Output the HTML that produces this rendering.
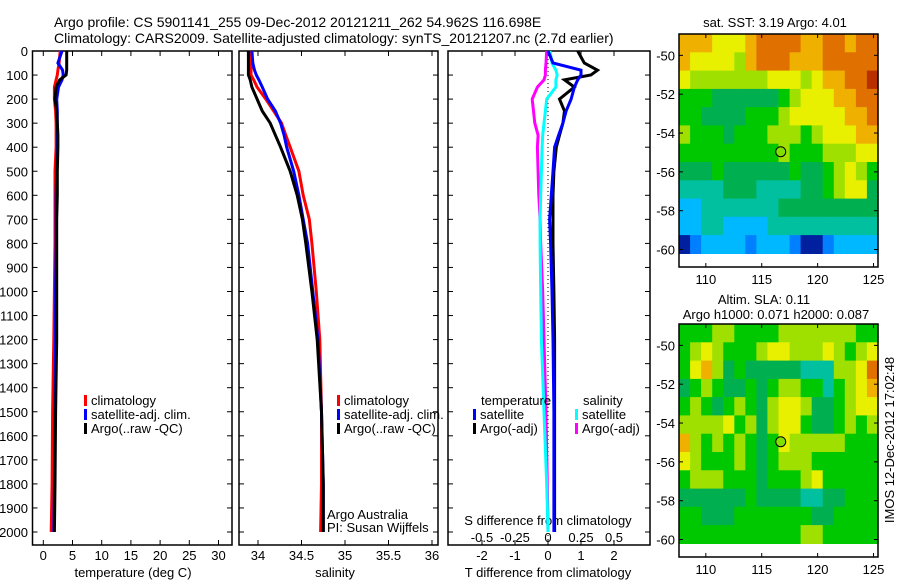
<!DOCTYPE html>
<html><head><meta charset="utf-8">
<style>
body{margin:0;background:#fff;}
svg{display:block;font-family:"Liberation Sans",sans-serif;}
text{fill:#000;font-size:13px;}
</style></head>
<body>
<svg id="chart" width="900" height="580" viewBox="0 0 900 580" xmlns="http://www.w3.org/2000/svg">
<text x="54" y="27" style="font-size:14px">Argo profile: CS 5901141_255 09-Dec-2012 20121211_262 54.962S 116.698E</text>
<text x="54" y="43" style="font-size:14px">Climatology: CARS2009. Satellite-adjusted climatology: synTS_20121207.nc (2.7d earlier)</text>
<g id="g"></g>
</svg>
<script>
// ---- data ----
const depths = [0,50,80,100,120,150,200,250,300,350,400,500,600,700,800,1000,1200,1500,1800,2000];
const tempClim = [2.9,2.7,2.5,2.4,2.2,1.9,1.9,2.1,2.2,2.2,2.2,2.0,2.0,2.0,2.0,1.9,1.8,1.6,1.5,1.35];
const tempSat  = [3.2,2.5,3.3,3.4,3.2,2.6,2.3,2.4,2.4,2.4,2.4,2.3,2.2,2.2,2.2,2.1,2.1,2.0,1.9,1.8];
const tempArgo = [4.0,4.0,4.0,3.9,2.8,2.2,2.0,2.3,2.4,2.5,2.5,2.4,2.4,2.3,2.3,2.3,2.3,2.1,2.0,1.9];
const salClim = [33.92,33.92,33.92,33.92,33.95,33.99,34.09,34.18,34.27,34.32,34.37,34.47,34.52,34.59,34.62,34.67,34.71,34.73,34.73,34.72];
const salSat  = [33.93,33.94,33.96,33.98,34.01,34.05,34.11,34.20,34.26,34.30,34.33,34.41,34.47,34.52,34.57,34.63,34.69,34.73,34.75,34.75];
const salArgo = [33.89,33.89,33.89,33.89,33.91,33.93,33.99,34.05,34.14,34.20,34.26,34.37,34.45,34.51,34.55,34.62,34.68,34.73,34.75,34.75];
const dTSat  = [0.0,0.15,1.0,1.0,0.9,0.8,0.7,0.55,0.45,0.32,0.2,0.15,0.1,0.05,0.08,0.12,0.15,0.18,0.18,0.18];
const dTArgo = [0.9,1.1,1.5,1.3,0.5,0.8,0.35,0.5,0.45,0.35,0.25,0.18,0.15,0.15,0.15,0.18,0.2,0.2,0.2,0.2];
const dSSat  = [0.015,0.03,0.06,0.07,0.06,0.06,-0.01,-0.02,-0.03,-0.04,-0.045,-0.05,-0.055,-0.06,-0.06,-0.055,-0.05,-0.03,-0.01,0.0];
const dSArgo = [-0.01,-0.015,-0.02,-0.02,-0.03,-0.08,-0.12,-0.11,-0.1,-0.075,-0.08,-0.075,-0.07,-0.06,-0.055,-0.04,-0.03,-0.015,-0.005,0.0];
const depthTicks = [0,100,200,300,400,500,600,700,800,900,1000,1100,1200,1300,1400,1500,1600,1700,1800,1900,2000];
const tempTicks = [0,5,10,15,20,25,30];
const salTicks = [34,34.5,35,35.5,36];
const salTickLabels = ["34","34.5","35","35.5","36"];
const dTTicks = [-2,-1,0,1,2];
const dSTicks = [-0.5,-0.25,0,0.25,0.5];
const dSTickLabels = ["-0.5","-0.25","0","0.25","0.5"];
const latTicks = [-50,-52,-54,-56,-58,-60];
const lonTicks = [110,115,120,125];
const argoLon = 116.698, argoLat = -54.962;
const sstGrid = [
"888777899998899899",
"877776899988899999",
"76666666777678899a",
"555444444567778899",
"554444555677777889",
"655545556665677788",
"555555555655566677",
"444544444454456765",
"333344433334456774",
"223333333444444444",
"223322223333333333",
"012222122210012222"];
const slaGrid = [
"555665555666666655",
"567655567766676567",
"578645444443336679",
"456544545665535678",
"565456546776445677",
"666675646775445656",
"865656545766666555",
"765556545666555555",
"566655545556755555",
"444444544443344555",
"554445555555445555",
"555555555556655555"];
// ---- helpers ----
const NS="http://www.w3.org/2000/svg";
const G=document.getElementById('g');
function mk(tag,attrs,parent){const e=document.createElementNS(NS,tag);for(const k in attrs)e.setAttribute(k,attrs[k]);(parent||G).appendChild(e);return e;}
const top0=51, bot0=545;
function yD(d){return top0+d*0.2405;}
function lin(d0,p0,d1,p1){return v=>p0+(v-d0)*(p1-p0)/(d1-d0);}
const xT=lin(0,43.3,30,218.5);
const xS=lin(34,258,36,432);
const xdT=lin(0,548,1,581);
const xdS=lin(0,548,0.25,581);
const panels=[{x0:32.5,x1:232,name:'temperature-panel'},{x0:239,x1:438,name:'salinity-panel'},{x0:448,x1:650,name:'difference-panel'}];
function stepPath(vals,xf){let d='';for(let i=0;i<depths.length;i++){const x=xf(vals[i]).toFixed(1),y=yD(depths[i]).toFixed(1);d+=(i?'L':'M')+x+' '+y;}return d;}
function line(vals,xf,col,name){const p=mk('path',{d:stepPath(vals,xf),fill:'none',stroke:col,'stroke-width':3});}
function txt(s,x,y,anchor,name,size){const t=mk('text',{x:x,y:y,'text-anchor':anchor||'start'});if(size)t.style.fontSize=size+'px';t.textContent=s;return t;}
// panels frame + ticks
panels.forEach((p,pi)=>{
  const r=mk('rect',{x:p.x0,y:top0,width:p.x1-p.x0,height:bot0-top0,fill:'none',stroke:'#000','stroke-width':1.5});
  
  
  depthTicks.forEach(d=>{mk('line',{x1:p.x0,x2:p.x0+5,y1:yD(d),y2:yD(d),stroke:'#000'});mk('line',{x1:p.x1,x2:p.x1-5,y1:yD(d),y2:yD(d),stroke:'#000'});});
});
depthTicks.forEach(d=>txt(String(d),28,yD(d)+5,'end','depth-tick-label'));
function xticks(ticks,labels,xf,p,ly){ticks.forEach((t,i)=>{const x=xf(t);mk('line',{x1:x,x2:x,y1:top0,y2:top0+5,stroke:'#000'});mk('line',{x1:x,x2:x,y1:bot0,y2:bot0-5,stroke:'#000'});if(labels)txt(labels[i],x,ly,'middle','x-tick-label');});}
xticks(tempTicks,tempTicks.map(String),xT,panels[0],560);
xticks(salTicks,salTickLabels,xS,panels[1],560);
xticks(dTTicks,dTTicks.map(String),xdT,panels[2],560);
dSTicks.forEach((t,i)=>{const x=xdS(t);mk('line',{x1:x,x2:x,y1:bot0,y2:bot0-5,stroke:'#000'});txt(dSTickLabels[i],x,542,'middle','s-diff-tick-label');});
txt('temperature (deg C)',133,577,'middle','temperature-axis-title');
txt('salinity',335,577,'middle','salinity-axis-title');
txt('T difference from climatology',548,577,'middle','t-diff-axis-title');
txt('S difference from climatology',548,525,'middle','s-diff-axis-title');
// zero dotted line
mk('line',{x1:548,x2:548,y1:top0,y2:bot0,stroke:'#000','stroke-dasharray':'1,3'});
// series
line(tempClim,xT,'#f00','temp-climatology-line');
line(tempSat,xT,'#00f','temp-satellite-line');
line(tempArgo,xT,'#000','temp-argo-line');
line(salClim,xS,'#f00','sal-climatology-line');
line(salSat,xS,'#00f','sal-satellite-line');
line(salArgo,xS,'#000','sal-argo-line');
line(dSArgo,xdS,'#f0f','sdiff-argo-line');
line(dSSat,xdS,'#0ff','sdiff-satellite-line');
line(dTArgo,xdT,'#000','tdiff-argo-line');
line(dTSat,xdT,'#00f','tdiff-satellite-line');
// legends
function leg(x,y,col,label,name){const r=mk('rect',{x:x,y:y-10,width:3,height:11,fill:col});txt(label,x+7,y,'start',name);}
[[84,'#f00','climatology'],[84,'#00f','satellite-adj. clim.'],[84,'#000','Argo(..raw -QC)']].forEach((l,i)=>leg(l[0],405+i*14,l[1],l[2],'legend-temp-'+i));
[[337,'#f00','climatology'],[337,'#00f','satellite-adj. clim.'],[337,'#000','Argo(..raw -QC)']].forEach((l,i)=>leg(l[0],405+i*14,l[1],l[2],'legend-sal-'+i));
txt('temperature',481,405,'start','legend-temperature-heading');
txt('salinity',583,405,'start','legend-salinity-heading');
leg(473,419,'#00f','satellite','legend-t-satellite');
leg(473,433,'#000','Argo(-adj)','legend-t-argo');
leg(575,419,'#0ff','satellite','legend-s-satellite');
leg(575,433,'#f0f','Argo(-adj)','legend-s-argo');
txt('Argo Australia',327,519,'start','credit-argo-australia');
txt('PI: Susan Wijffels',327,532,'start','credit-pi');
// maps
const cmap=['#0020a0','#0080ff','#00b8ff','#00c0a0','#00b050','#00c800','#a0e000','#e8f000','#f0b000','#e07000','#b83000'];
function drawMap(grid,x0,x1,yTop,yBot,name){
  const lonF=lin(107.6,x0,125.4,x1);
  const latF=lin(-48.9,yTop,-60.9,yBot);
  const rows=grid.length;
  grid.forEach((row,ri)=>{
    const vals=row.split('').map(c=>c==='a'?10:+c).slice(0,18);
    const cw=(x1-x0)/vals.length;
    const la0=-48.9-ri*(11.3/rows), la1=-48.9-(ri+1)*(11.3/rows);
    vals.forEach((v,ci)=>{
      const c=mk('rect',{x:(x0+ci*cw).toFixed(1),y:latF(la0).toFixed(1),width:(cw+0.6).toFixed(1),height:(latF(la1)-latF(la0)+0.6).toFixed(1),fill:cmap[v]});
      
      
    });
  });
  const f=mk('rect',{x:x0,y:yTop,width:x1-x0,height:yBot-yTop,fill:'none',stroke:'#000','stroke-width':1.5});
  
  
  latTicks.forEach(t=>{const y=latF(t);mk('line',{x1:x0,x2:x0+4,y1:y,y2:y,stroke:'#000'});mk('line',{x1:x1,x2:x1-4,y1:y,y2:y,stroke:'#000'});txt(String(t),675,y+5,'end',name+'-lat-label');});
  lonTicks.forEach(t=>{const x=lonF(t);mk('line',{x1:x,x2:x,y1:yBot,y2:yBot-4,stroke:'#000'});mk('line',{x1:x,x2:x,y1:yTop,y2:yTop+4,stroke:'#000'});txt(String(t),x,yBot+17,'middle',name+'-lon-label');});
  const c=mk('circle',{cx:lonF(argoLon),cy:latF(argoLat),r:5,fill:'#80e000',stroke:'#000','stroke-width':1});
  
  
}
drawMap(sstGrid,679,878,34,267,'sst-map');
drawMap(slaGrid,679,878,324,557,'sla-map');
txt('sat. SST: 3.19 Argo: 4.01',775,27,'middle','sst-map-title');
txt('Altim. SLA: 0.11',764,304,'middle','sla-map-title-1');
txt('Argo h1000: 0.071 h2000: 0.087',776,319,'middle','sla-map-title-2');
const rt=txt('IMOS 12-Dec-2012 17:02:48',0,0,'middle','imos-timestamp');
rt.setAttribute('transform','translate(894,440) rotate(-90)');
</script>
</body></html>
